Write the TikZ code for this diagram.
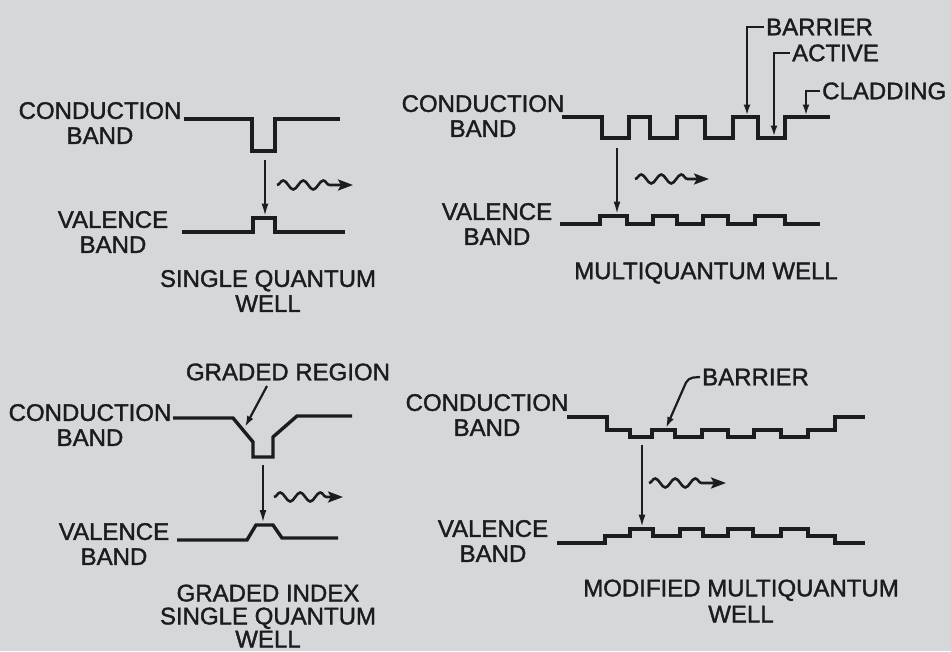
\documentclass[tikz,border=0pt]{standalone}
\usepackage{fontspec}
\setmainfont{Liberation Sans}[FakeBold=1.5]
\usetikzlibrary{arrows.meta, decorations.pathmorphing}
\definecolor{paper}{RGB}{212,216,216}
\definecolor{ink}{RGB}{28,28,32}

\begin{document}
\begin{tikzpicture}[x=1pt, y=-1pt,
    every node/.style={font=\fontsize{24}{25}\selectfont, align=center, text=ink, inner sep=2pt},
    band/.style={draw=ink, line width=3.4pt},
    arr/.style={draw=ink, line width=2.2pt, -{Latex[length=13pt,width=7pt]}},
    lead/.style={draw=ink, line width=2.2pt, -{Latex[length=11pt,width=7pt]}},
    photon/.style={draw=ink, line width=2.6pt, -{Stealth[length=15pt,width=11pt,inset=3pt]},
        decorate, decoration={snake, amplitude=4.5pt, segment length=20pt, post length=16pt}},
    lbl/.style={anchor=west}
]
\path[use as bounding box, fill=paper] (0,0) rectangle (951,651);

\node (cbA)  at (100,123) {CONDUCTION\\BAND};
\node (vbA)  at (113,232) {VALENCE\\BAND};
\node (ttlA) at (268,291) {SINGLE QUANTUM\\WELL};
\draw[band] (184,119) -- (252,119) -- (252,151) -- (275,151) -- (275,119) -- (340,119);
\draw[band] (182,232) -- (253,232) -- (253,218) -- (275,218) -- (275,232) -- (345,232);
\coordinate (eA)  at (265,160);
\coordinate (hA)  at (265,216.5);
\coordinate (wA1) at (277,185);
\coordinate (wA2) at (353,185);
\draw[arr] (eA) -- (hA);
\draw[photon] (wA1) -- (wA2);

\node (cbB)  at (483,116) {CONDUCTION\\BAND};
\node (vbB)  at (497,224) {VALENCE\\BAND};
\node (ttlB) at (706,273) {MULTIQUANTUM WELL};
\node[lbl] (barB) at (764,27) {BARRIER};
\node[lbl] (actB) at (790,53) {ACTIVE};
\node[lbl] (cldB) at (820,91) {CLADDING};
\draw[band] (562,117) -- (602,117) -- (602,138) -- (629,138) -- (629,117) -- (650,117)
  -- (650,138) -- (677,138) -- (677,117) -- (705,117) -- (705,138) -- (733,138)
  -- (733,117) -- (758,117) -- (758,138) -- (785,138) -- (785,117) -- (830,117);
\draw[band] (560,224) -- (600,224) -- (600,216) -- (627,216) -- (627,224) -- (653,224)
  -- (653,216) -- (677,216) -- (677,224) -- (703,224) -- (703,216) -- (728,216)
  -- (728,224) -- (755,224) -- (755,216) -- (785,216) -- (785,224) -- (820,224);
\coordinate (tB1) at (747,115.5);
\coordinate (tB2) at (774,136.5);
\coordinate (tB3) at (806,115.5);
\draw[lead] (barB.west) -| (tB1);
\draw[lead] (actB.west) -| (tB2);
\draw[lead] (cldB.west) -| (tB3);
\coordinate (eB)  at (617,148);
\coordinate (hB)  at (617,214.5);
\coordinate (wB1) at (635,179);
\coordinate (wB2) at (709,179);
\draw[arr] (eB) -- (hB);
\draw[photon] (wB1) -- (wB2);

\node (grC)  at (288,372) {GRADED REGION};
\node (cbC)  at (90,425) {CONDUCTION\\BAND};
\node (vbC)  at (114,544) {VALENCE\\BAND};
\node[font=\fontsize{24}{23}\selectfont] (ttlC) at (268,616) {GRADED INDEX\\SINGLE QUANTUM\\WELL};
\draw[band] (173,418) -- (233,418) -- (253,442) -- (253,457) -- (273,457) -- (273,437)
  -- (297,416) -- (352,416);
\draw[band] (177,540) -- (247,540) -- (256,525) -- (273,525) -- (282,538) -- (338,538);
\coordinate (gC1) at (267,386);
\coordinate (gC2) at (245,427);
\draw[lead] (gC1) -- (gC2);
\coordinate (eC)  at (263,465);
\coordinate (hC)  at (263,523);
\coordinate (wC1) at (274,497);
\coordinate (wC2) at (343,497);
\draw[arr] (eC) -- (hC);
\draw[photon] (wC1) -- (wC2);

\node (cbD)  at (487,415) {CONDUCTION\\BAND};
\node (vbD)  at (493,541) {VALENCE\\BAND};
\node[font=\fontsize{24}{26}\selectfont] (ttlD) at (741,601) {MODIFIED MULTIQUANTUM\\WELL};
\node[lbl] (barD) at (700,377) {BARRIER};
\draw[band] (567,417) -- (607,417) -- (607,430) -- (630,430) -- (630,437) -- (652,437)
  -- (652,430) -- (675,430) -- (675,437) -- (702,437) -- (702,430) -- (728,430)
  -- (728,437) -- (754,437) -- (754,430) -- (781,430) -- (781,437) -- (808,437)
  -- (808,430) -- (835,430) -- (835,417) -- (865,417);
\draw[band] (557,543) -- (605,543) -- (605,536) -- (630,536) -- (630,529) -- (653,529)
  -- (653,536) -- (680,536) -- (680,529) -- (703,529) -- (703,536) -- (728,536)
  -- (728,529) -- (753,529) -- (753,536) -- (781,536) -- (781,529) -- (808,529)
  -- (808,536) -- (835,536) -- (835,543) -- (865,543);
\coordinate (kD) at (688,378);
\coordinate (tD) at (666,428);
\draw[lead, rounded corners=5pt] (barD.west) -- (kD) -- (tD);
\coordinate (eD)  at (642,445);
\coordinate (hD)  at (642,527.5);
\coordinate (wD1) at (649,483);
\coordinate (wD2) at (726,483);
\draw[arr] (eD) -- (hD);
\draw[photon] (wD1) -- (wD2);
\end{tikzpicture}
\end{document}
